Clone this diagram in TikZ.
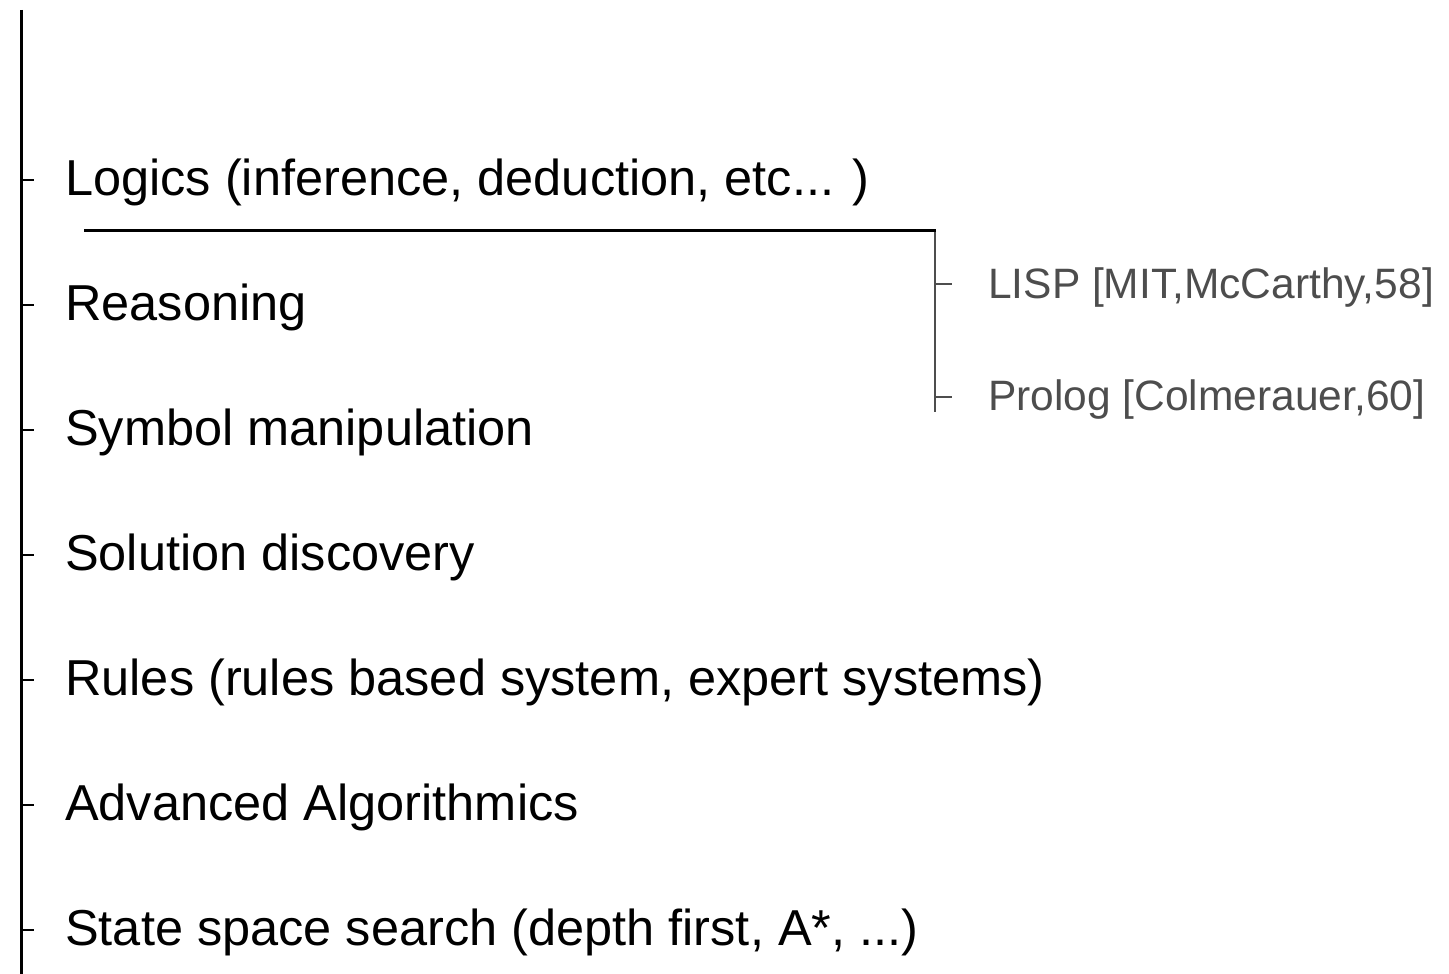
\documentclass[tikz,border=0pt]{standalone}
\usepackage{fontspec}
\setmainfont{Liberation Sans}
\definecolor{subgray}{HTML}{4D4D4D}
\begin{document}
\begin{tikzpicture}[x=1pt, y=-1pt,
    item/.style = {anchor = base west, inner sep = 0pt, font = \fontsize{50.5}{60}\selectfont},
    sub/.style = {anchor = base west, inner sep = 0pt, text = subgray, font = \fontsize{42.5}{52}\selectfont},
    axis/.style = {line width = 3pt, black},
    subaxis/.style = {line width = 1.8pt, subgray}]
                \useasboundingbox (0,0) rectangle (1449,974);
                \coordinate (top) at (21,10);
                \coordinate (bottom) at (21,974);
                \draw[axis] (top) -- (bottom);
                \foreach \name/\txt [count = \i] in {logics/{Logics (inference, deduction, etc... )},
                    reasoning/Reasoning, symbol/Symbol manipulation, solution/Solution discovery,
                    rules/{Rules (rules based system, expert systems)}, algo/Advanced Algorithmics,
                    search/{State space search (depth first, A*, ...)}} {
                    \node [item] (\name) at (65, 70 + 125*\i) {\txt};
                    \coordinate (\name tick) at (34, 55 + 125*\i);
                    \draw[line width = 2.4pt] (\name tick -| top) -- (\name tick);
                }
                % underline and language branch
                \coordinate (rule start) at (84,230);
                \coordinate (rule end) at (936,230);
                \draw[line width = 3pt] (rule start) -- (rule end);
                \node [sub] (lisp) at (988,298) {LISP [MIT,McCarthy,58]};
                \node [sub] (prolog) at (988,410) {Prolog [Colmerauer,60]};
                \coordinate (branch end) at (935,412);
                \draw[subaxis] (rule end) ++(-1,2) -- (branch end);
                \coordinate (lisp tick) at (952,284);
                \coordinate (prolog tick) at (952,397);
                \draw[subaxis, line width = 1.6pt] (lisp tick -| branch end) -- (lisp tick);
                \draw[subaxis, line width = 1.6pt] (prolog tick -| branch end) -- (prolog tick);
            \end{tikzpicture}
\end{document}
